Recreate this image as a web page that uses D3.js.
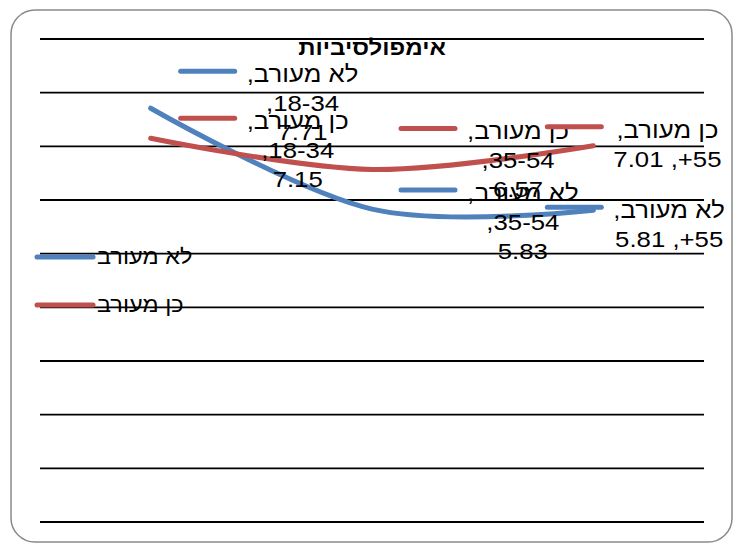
<!DOCTYPE html>
<html>
<head>
<meta charset="utf-8">
<script src="https://cdn.jsdelivr.net/npm/d3@7"></script>
<style>
  body { margin: 0; background: #fff; }
  text { font-family: "Liberation Sans", Arial, sans-serif; }
</style>
</head>
<body>
<div id="chart"></div>
<script>
// chart data
const categories = ['18-34', '35-54', '55+'];
const seriesNames = ['לא מעורב', 'כן מעורב'];
const notInvolved = [7.71, 5.83, 5.81];
const involved = [7.15, 6.57, 7.01];
const yTicks = [0, 1, 2, 3, 4, 5, 6, 7, 8, 9];
const title = 'אימפולסיביות';

// label nudges (dx from point to key start, dy from point to first text line)
const notInvolvedNudge = [[30, -34], [29, -16], [-46, 0]];
const involvedNudge = [[30, -17], [29, -38], [-46, -16]];

const width = 735;
const height = 544;
const margin = { left: 40, right: 31, top: 39, bottom: 22 };
const colors = ['#4f81bd', '#c0504d'];
const sx = 1.12; // the fonts in the picture look a bit wide
const fontSize = 23;
const lineH = 29;
const keyLen = 54;

const svg = d3.select('#chart').append('svg')
  .attr('width', width)
  .attr('height', height);

// outer rounded frame
svg.append('rect')
  .attr('x', 11).attr('y', 10)
  .attr('width', 721).attr('height', 532)
  .attr('rx', 24).attr('ry', 24)
  .attr('fill', '#fff')
  .attr('stroke', '#8a8a8a')
  .attr('stroke-width', 1.5);

const x = d3.scaleBand()
  .domain(categories)
  .range([margin.left, width - margin.right]);

const y = d3.scaleLinear()
  .domain([0, 9])
  .range([height - margin.bottom, margin.top]);

const px = c => x(c) + x.bandwidth() / 2;

// gridlines
svg.append('g')
  .selectAll('line')
  .data(yTicks)
  .enter()
  .append('line')
  .attr('x1', margin.left)
  .attr('x2', width - margin.right)
  .attr('y1', d => y(d))
  .attr('y2', d => y(d))
  .attr('stroke', '#000')
  .attr('stroke-width', 1.8);

// title
svg.append('g')
  .attr('transform', 'translate(' + ((margin.left + width - margin.right) / 2) + ',55) scale(' + sx + ',1)')
  .append('text')
  .attr('text-anchor', 'middle')
  .attr('direction', 'rtl')
  .attr('font-weight', 'bold')
  .attr('font-size', 21.5)
  .text(title);

const series = [
  { name: seriesNames[0], values: notInvolved, color: colors[0], nudge: notInvolvedNudge },
  { name: seriesNames[1], values: involved, color: colors[1], nudge: involvedNudge }
];

// smoothed lines like excel
const line = d3.line()
  .x((d, i) => px(categories[i]))
  .y(d => y(d))
  .curve(d3.curveCardinal.tension(0));

svg.append('g')
  .selectAll('path')
  .data(series)
  .enter()
  .append('path')
  .attr('d', d => line(d.values))
  .attr('fill', 'none')
  .attr('stroke', d => d.color)
  .attr('stroke-width', 5)
  .attr('stroke-linecap', 'round');

// simple word wrap for the data labels
const measure = svg.append('text').attr('font-size', fontSize).attr('direction', 'rtl');
const textW = s => measure.text(s).node().getComputedTextLength() * sx;
const wrap = (s, maxW) => {
  const words = s.split(' ');
  const lines = [];
  let cur = '';
  words.forEach(w => {
    const t = cur ? cur + ' ' + w : w;
    if (cur && textW(t) > maxW) { lines.push(cur); cur = w; }
    else cur = t;
  });
  lines.push(cur);
  return lines;
};

const labels = svg.append('g');
series.forEach(s => {
  s.values.forEach((v, i) => {
    const c = categories[i];
    const lines = wrap(s.name + ', ' + c + ', ' + v.toFixed(2), 116);
    const maxW = d3.max(lines, l => textW(l));
    const kx = px(c) + s.nudge[i][0];
    const ty = y(v) + s.nudge[i][1];
    const g = labels.append('g');
    g.append('line')
      .attr('x1', kx).attr('x2', kx + keyLen)
      .attr('y1', ty - 3).attr('y2', ty - 3)
      .attr('stroke', s.color)
      .attr('stroke-width', 5)
      .attr('stroke-linecap', 'round');
    const cx = kx + keyLen + 12 + maxW / 2;
    lines.forEach((l, j) => {
      g.append('g')
        .attr('transform', 'translate(' + cx + ',' + (ty + 8 + j * lineH) + ') scale(' + sx + ',1)')
        .append('text')
        .attr('text-anchor', 'middle')
        .attr('direction', 'rtl')
        .attr('font-size', fontSize)
        .attr('fill', '#000')
        .text(l);
    });
  });
});
measure.remove();

// legend on the left
const legend = svg.append('g')
  .selectAll('g')
  .data(series)
  .enter()
  .append('g')
  .attr('transform', (d, i) => 'translate(37,' + (257 + i * 48) + ')');

legend.append('line')
  .attr('x1', 0).attr('x2', 56)
  .attr('stroke', d => d.color)
  .attr('stroke-width', 5)
  .attr('stroke-linecap', 'round');

legend.append('g')
  .attr('transform', 'translate(60,7) scale(' + sx + ',1)')
  .append('text')
  .attr('text-anchor', 'end')
  .attr('direction', 'rtl')
  .attr('font-size', 21)
  .text(d => d.name);
</script>
</body>
</html>
